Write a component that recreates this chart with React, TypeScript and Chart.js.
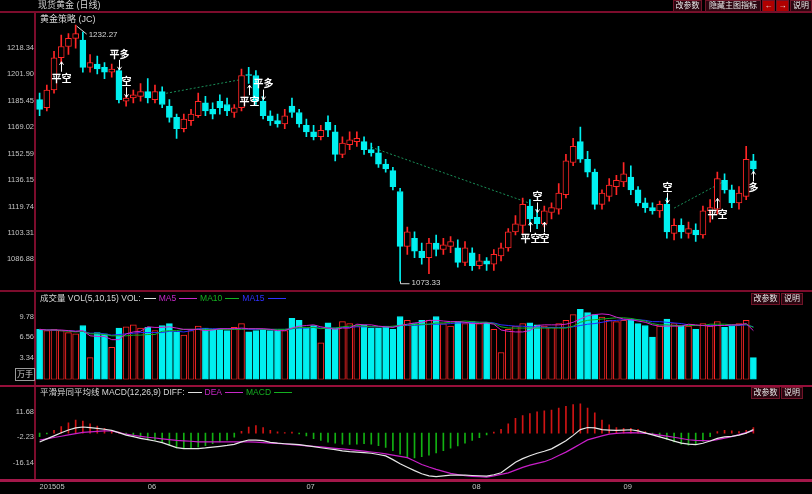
import React, { useEffect, useRef } from "react";
import { Chart, registerables } from "chart.js";

Chart.register(...registerables);

// ---------- data ----------
const dates = [
  "05-11","05-12","05-13","05-14","05-15","05-18","05-19","05-20","05-21","05-22","05-25","05-26","05-27","05-28","05-29",
  "06-01","06-02","06-03","06-04","06-05","06-08","06-09","06-10","06-11","06-12","06-15","06-16","06-17","06-18","06-19","06-22","06-23","06-24","06-25","06-26","06-29","06-30",
  "07-01","07-02","07-03","07-06","07-07","07-08","07-09","07-10","07-13","07-14","07-15","07-16","07-17","07-20","07-21","07-22","07-23","07-24","07-27","07-28","07-29","07-30","07-31",
  "08-03","08-04","08-05","08-06","08-07","08-10","08-11","08-12","08-13","08-14","08-17","08-18","08-19","08-20","08-21","08-24","08-25","08-26","08-27","08-28","08-31",
  "09-01","09-02","09-03","09-04","09-07","09-08","09-09","09-10","09-11","09-14","09-15","09-16","09-17","09-18","09-21","09-22","09-23","09-24","09-25",
];

const openP = [
  1186,1181,1192,1212,1219,1224,1223,1206,1208,1206,
  1203,1204,1185,1187,1188,1191,1186,1191,1182,1175,
  1168,1173,1176,1184,1180,1185,1183,1178,1181,1201.5,
  1201,1185,1176,1173,1171,1182,1178,1170,1166,1163,
  1172,1166,1152,1158,1160,1160,1155,1153,1146,1142,
  1129,1095,1100,1092,1088,1097,1093,1095,1094,1085,
  1091,1083,1086,1084,1089,1094,1104,1108,1120,1113,
  1109,1116,1118,1127,1147,1160,1149,1141,1121,1126,
  1132,1135,1138,1130,1122,1119,1117,1121,1103,1108,
  1103,1105,1102,1117,1118,1136,1130,1122,1126,1148,
];
const highP = [
  1190,1195,1216,1226,1227,1232.27,1228,1214,1213,1209,
  1208,1205,1188,1192,1196,1199,1195,1194,1186,1177,
  1177,1180,1190,1188,1184,1189,1187,1183,1205,1206,
  1204,1188,1179,1177,1180,1187,1180,1174,1170,1170,
  1176,1170,1163,1166,1166,1163,1159,1157,1149,1144,
  1131,1107,1104,1097,1100,1102,1100,1101,1099,1098,
  1094,1090,1088,1093,1097,1106,1114,1125,1124,1118,
  1120,1122,1134,1152,1162,1169,1154,1143,1130,1137,
  1139,1147,1145,1132,1125,1122,1123,1125,1112,1112,
  1110,1109,1120,1124,1141,1140,1133,1132,1157,1152,
];
const lowP = [
  1176,1179,1190,1209,1214,1218,1203,1203,1202,1199,
  1200,1184,1182,1184,1185,1184,1184,1181,1172,1162,
  1166,1170,1175,1176,1174,1177,1176,1175,1179,1196,
  1183,1174,1170,1169,1168,1175,1169,1163,1161,1161,
  1163,1148,1150,1155,1157,1152,1151,1144,1141,1130,
  1073.33,1090,1088,1084,1078,1089,1090,1091,1082,1083,
  1080,1081,1080,1080,1086,1092,1102,1103,1108,1106,
  1107,1112,1115,1125,1145,1147,1138,1118,1118,1123,
  1127,1132,1127,1120,1116,1115,1113,1100,1099,1100,
  1100,1098,1100,1110,1115,1128,1119,1118,1124,1141,
];
const closeP = [
  1180,1192,1212,1219,1224,1227,1206,1209,1205,1203,
  1205,1186,1187,1189,1191,1187,1191,1183,1175,1168,
  1174,1177,1185,1179,1177,1181,1179,1181,1201,1201,
  1185,1176,1173,1171,1176,1178,1171,1166,1163,1167,
  1167,1152,1159,1161,1162,1155,1153,1146,1143,1132,
  1095,1104,1092,1088,1097,1093,1096,1098,1085,1094,
  1083,1086,1084,1090,1094,1104,1109,1121,1112,1109,
  1117,1119,1128,1148,1157,1149,1141,1121,1128,1133,
  1136,1140,1130,1122,1119,1117,1121,1104,1108,1104,
  1106,1102,1117,1119,1137,1130,1122,1128,1149,1143,
];

const volume = [
  7.8,7.6,7.8,7.6,7.3,7.1,8.4,3.4,7.3,7.1,
  5.0,8.0,8.2,8.5,8.0,8.1,7.6,8.4,8.7,7.4,
  6.9,7.6,8.3,8.0,7.8,7.8,7.6,8.1,8.7,7.4,
  7.6,7.8,7.6,7.6,7.6,9.5,9.2,8.0,8.4,5.7,
  8.8,8.0,9.0,8.7,8.3,8.5,8.0,8.0,8.3,7.8,
  9.8,9.2,8.7,9.2,9.2,9.8,8.7,8.3,9.0,8.7,
  9.0,8.7,8.8,7.8,4.2,7.8,8.3,8.7,8.8,8.5,
  8.3,8.1,8.7,9.2,10.1,10.9,10.4,10.1,9.7,9.2,
  9.0,9.2,9.4,8.7,8.4,6.6,8.3,9.4,8.7,8.4,
  8.3,7.8,8.7,8.3,9.0,8.1,8.4,8.7,9.2,3.4,
];
const volMA5 = [
  7.8,7.7,7.7,7.7,7.6,7.5,7.6,6.8,6.7,6.7,
  6.2,6.2,7.1,7.4,7.5,8.2,8.1,8.1,8.2,8.0,
  7.8,7.8,7.8,7.6,7.7,7.9,7.9,7.9,8.0,7.9,
  7.9,7.9,7.8,7.6,7.6,8.0,8.3,8.4,8.5,8.2,
  8.0,7.8,8.0,8.0,8.6,8.5,8.5,8.3,8.2,8.1,
  8.4,8.6,8.8,8.9,9.2,9.2,9.1,9.0,9.0,8.9,
  8.7,8.7,8.8,8.6,7.7,7.5,7.4,7.4,7.6,8.4,
  8.5,8.5,8.5,8.6,8.9,9.4,9.9,10.1,10.2,10.1,
  9.7,9.4,9.3,9.1,8.9,8.5,8.3,8.3,8.3,8.3,
  8.6,8.5,8.4,8.3,8.4,8.4,8.5,8.5,8.7,7.6,
];
const volMA10 = [
  7.8,7.7,7.7,7.6,7.5,7.4,7.5,7.1,7.1,7.0,
  6.8,6.8,6.8,6.9,6.9,7.0,7.0,7.5,7.6,7.6,
  7.8,7.8,7.8,7.8,7.8,7.8,7.8,7.8,7.8,7.9,
  7.9,7.8,7.8,7.8,7.8,7.9,8.1,8.1,8.1,7.9,
  8.0,8.0,8.2,8.3,8.4,8.3,8.2,8.2,8.2,8.3,
  8.4,8.5,8.5,8.6,8.6,8.8,8.8,8.9,9.0,9.1,
  9.0,8.9,8.9,8.7,8.2,8.0,8.0,8.0,8.0,8.0,
  8.0,8.0,8.0,8.0,8.3,8.9,9.2,9.3,9.4,9.5,
  9.6,9.6,9.5,9.3,9.1,8.7,8.5,8.5,8.4,8.4,
  8.4,8.4,8.4,8.6,8.6,8.6,8.5,8.5,8.6,8.1,
];
const volMA15 = [
  7.8,7.7,7.7,7.6,7.6,7.5,7.5,7.2,7.2,7.1,
  6.9,7.0,7.1,7.2,7.3,7.3,7.3,7.3,7.5,7.5,
  7.4,7.6,7.9,7.9,7.9,7.9,7.9,7.9,7.9,7.8,
  7.8,7.8,7.8,7.8,7.8,7.9,8.0,8.0,8.1,8.0,
  8.0,8.0,8.1,8.1,8.2,8.2,8.2,8.2,8.2,8.2,
  8.4,8.4,8.4,8.5,8.6,8.6,8.6,8.7,8.8,8.8,
  8.9,8.9,8.9,8.8,8.5,8.4,8.3,8.3,8.2,8.2,
  8.1,8.1,8.1,8.1,8.2,8.4,8.6,8.7,8.9,9.1,
  9.2,9.3,9.3,9.3,9.2,9.0,9.0,8.9,8.8,8.7,
  8.5,8.4,8.4,8.4,8.4,8.4,8.4,8.4,8.5,8.2,
];

const diffLine = [
  -4.81,-3.16,-1.51,0.14,1.68,2.82,3.28,2.92,2.51,2.05,
  1.48,0.24,-1.10,-1.97,-2.85,-3.57,-4.29,-5.22,-6.56,-7.85,
  -8.41,-8.41,-8.41,-8.05,-7.59,-7.18,-6.71,-6.09,-4.76,-3.78,
  -3.78,-4.14,-5.01,-5.48,-5.79,-6.04,-6.30,-6.82,-7.38,-7.95,
  -8.52,-9.03,-9.65,-10.06,-10.37,-10.63,-10.94,-11.61,-12.38,-14.39,
  -16.66,-18.51,-20.37,-22.07,-23.20,-23.66,-23.25,-22.84,-22.84,-22.84,
  -22.99,-23.15,-23.35,-22.58,-21.50,-18.67,-15.83,-13.87,-12.28,-10.94,
  -9.86,-8.57,-6.40,-4.19,-1.25,1.89,3.02,2.77,1.84,1.63,
  1.43,1.58,1.79,1.17,0.09,-0.99,-2.08,-3.16,-4.34,-5.48,
  -6.04,-6.30,-5.53,-4.29,-2.85,-2.08,-1.77,-1.15,-0.02,1.84,
];
const deaLine = [
  -3.78,-3.11,-2.39,-1.72,-0.99,-0.32,0.35,0.60,0.91,1.17,
  1.12,0.24,-0.63,-1.20,-1.77,-2.28,-2.69,-3.16,-3.57,-3.93,
  -4.19,-4.45,-4.76,-4.81,-4.81,-4.81,-4.81,-4.81,-4.81,-4.81,
  -4.91,-5.17,-5.43,-5.63,-5.94,-6.25,-6.56,-6.92,-7.23,-7.54,
  -7.90,-8.26,-8.57,-8.93,-9.34,-9.80,-10.27,-10.68,-11.25,-11.92,
  -12.59,-13.31,-15.16,-17.02,-18.41,-19.70,-20.78,-21.86,-22.48,-23.15,
  -23.51,-23.66,-23.87,-23.20,-22.43,-21.60,-20.11,-18.61,-17.38,-16.45,
  -15.52,-14.03,-12.17,-10.32,-8.16,-5.94,-3.72,-2.64,-1.51,-0.58,
  -0.22,0.14,0.24,0.09,-0.12,-0.58,-1.10,-1.66,-2.28,-2.95,
  -3.62,-3.93,-4.09,-4.29,-3.52,-2.75,-1.92,-0.89,0.24,1.32,
];
const macdHist = [
  -2.0,-0.5,1.5,3.5,5.5,7.0,6.5,5.0,3.8,2.5,
  1.5,0.5,-0.8,-1.5,-2.2,-3.0,-3.8,-5.0,-6.5,-8.0,
  -8.5,-8.2,-7.6,-6.8,-5.8,-4.8,-3.8,-2.2,1.0,3.2,
  4.0,3.0,1.5,0.6,0.3,0.5,-0.5,-1.5,-3.0,-4.0,
  -5.0,-5.5,-6.0,-6.2,-6.0,-5.8,-6.0,-6.8,-7.8,-9.5,
  -11.5,-13.0,-13.5,-12.8,-12.0,-10.8,-9.5,-8.2,-7.0,-5.5,
  -4.0,-2.5,-1.0,0.5,2.0,5.0,8.0,9.5,10.5,11.5,
  12.0,12.5,13.5,14.5,15.5,15.8,13.5,11.0,7.0,4.5,
  3.0,2.5,2.5,2.0,0.8,-0.8,-2.0,-3.5,-4.8,-6.0,
  -6.5,-6.2,-4.5,-2.0,0.8,1.5,1.2,0.8,1.5,3.0,
];

const priceTicks = [1218.34, 1201.90, 1185.45, 1169.02, 1152.59, 1136.15, 1119.74, 1103.31, 1086.88];
const volTicks = [9.78, 6.56, 3.34];
const macdTicks = [11.68, -2.23, -16.14];
const monthTickIdx = [0, 15, 37, 60, 81];
const monthTickText = ["201505", "06", "07", "08", "09"];

// trading signals of the strategy indicator
const signalIdx = [3, 11, 12, 29, 31, 68, 69, 70, 87, 94, 99];
const signalPrice = [1209.5, 1204.5, 1187.5, 1195, 1186, 1110, 1116, 1110, 1122, 1124.7, 1141.5];
const signalText = ["平空", "平多", "空", "平空", "平多", "平空", "空", "空", "空", "平空", "多"];
const signalDir = ["up", "down", "down", "up", "down", "up", "down", "up", "down", "up", "up"];

// strategy guide lines (start/end index and price)
const guideAIdx = [17, 28];
const guideAVal = [1189.5, 1198.5];
const guideBIdx = [46, 68];
const guideBVal = [1156.5, 1121.7];
const guideCIdx = [88, 95];
const guideCVal = [1118.7, 1135.5];

// ---------- styles ----------
const RED = "#ff2626";
const CYAN = "#00f0f0";
const FRAME = "#7c0c2c";
const AXIS_FONT = { size: 7.5, family: '"Liberation Sans", sans-serif' };

const isUp = (i: number) => closeP[i] >= openP[i];

const yAxis = (min: number, max: number, ticks: number[]) => ({
  type: "linear",
  position: "left",
  min,
  max,
  grid: { display: false, drawTicks: false },
  border: { display: false },
  afterFit: (s: any) => {
    s.width = 36;
  },
  afterBuildTicks: (s: any) => {
    s.ticks = ticks.map((v) => ({ value: v }));
  },
  ticks: {
    color: "#c4c4c4",
    font: AXIS_FONT,
    padding: 2,
    autoSkip: false,
    callback: (v: any) => Number(v).toFixed(2),
  },
});

const hiddenX = {
  type: "category",
  labels: dates,
  offset: true,
  display: false,
  grid: { display: false },
};

const baseOptions = (padBottom: number) => ({
  responsive: false,
  maintainAspectRatio: false,
  animation: false,
  events: [],
  layout: { padding: { left: 0, right: 55, top: 2, bottom: padBottom } },
  plugins: { legend: { display: false }, tooltip: { enabled: false }, title: { display: false } },
});

const guide = (idx: number[], val: number[]) => ({
  type: "line",
  data: [
    { x: dates[idx[0]], y: val[0] },
    { x: dates[idx[1]], y: val[1] },
  ],
  borderColor: "#1a8f58",
  borderWidth: 1,
  borderDash: [2, 2],
  pointRadius: 0,
  order: 5,
});

const mainMarks = {
  id: "mainMarks",
  afterDatasetsDraw(chart: any) {
    const { ctx } = chart;
    const x = chart.scales.x;
    const y = chart.scales.y;
    ctx.save();
    let hi = 0;
    let lo = 0;
    for (let i = 1; i < highP.length; i++) {
      if (highP[i] > highP[hi]) hi = i;
      if (lowP[i] < lowP[lo]) lo = i;
    }
    ctx.strokeStyle = "#d8d8d8";
    ctx.fillStyle = "#d8d8d8";
    ctx.lineWidth = 1;
    ctx.font = '8px "Liberation Sans", sans-serif';
    ctx.textAlign = "left";
    ctx.textBaseline = "middle";
    const hx = x.getPixelForValue(hi);
    const hy = y.getPixelForValue(highP[hi]);
    ctx.beginPath();
    ctx.moveTo(hx + 1, hy + 1);
    ctx.lineTo(hx + 11, hy + 9);
    ctx.stroke();
    ctx.fillText(highP[hi].toFixed(2), hx + 13, hy + 10);
    const lx = Math.round(x.getPixelForValue(lo)) + 0.5;
    const ly = y.getPixelForValue(lowP[lo]);
    ctx.beginPath();
    ctx.moveTo(lx, ly);
    ctx.lineTo(lx, ly + 2.5);
    ctx.lineTo(lx + 9, ly + 2.5);
    ctx.stroke();
    ctx.fillText(lowP[lo].toFixed(2), lx + 11, ly + 2);

    ctx.font = 'bold 10px "Noto Sans CJK SC", sans-serif';
    ctx.textAlign = "center";
    ctx.fillStyle = "#ffffff";
    ctx.strokeStyle = "#ffffff";
    signalIdx.forEach((si, k) => {
      const sx = Math.round(x.getPixelForValue(si)) + 0.5;
      const sy = y.getPixelForValue(signalPrice[k]);
      const up = signalDir[k] === "up";
      ctx.beginPath();
      if (up) {
        ctx.moveTo(sx, sy);
        ctx.lineTo(sx, sy + 10);
        ctx.moveTo(sx - 2, sy + 3);
        ctx.lineTo(sx, sy);
        ctx.lineTo(sx + 2, sy + 3);
      } else {
        ctx.moveTo(sx, sy);
        ctx.lineTo(sx, sy - 10);
        ctx.moveTo(sx - 2, sy - 3);
        ctx.lineTo(sx, sy);
        ctx.lineTo(sx + 2, sy - 3);
      }
      ctx.stroke();
      ctx.fillText(signalText[k], sx, up ? sy + 16 : sy - 16);
    });
    ctx.restore();
  },
};

// ---------- component ----------
const lineSeg = (color: string, w = 18) => (
  <span
    style={{
      display: "inline-block",
      width: w,
      height: 0,
      borderTop: `1px solid ${color}`,
      verticalAlign: "middle",
      margin: "0 3px",
    }}
  />
);

const btn = (left: number, top: number, w: number, text: string, bg = "#2c0610") => (
  <div
    style={{
      position: "absolute",
      left,
      top,
      width: w,
      height: 10,
      background: bg,
      border: "1px solid #701428",
      color: "#e8e8e8",
      fontSize: 8,
      lineHeight: "10px",
      textAlign: "center",
      whiteSpace: "nowrap",
      overflow: "hidden",
    }}
  >
    {text}
  </div>
);

export default function App() {
  const mainRef = useRef<HTMLCanvasElement>(null);
  const volRef = useRef<HTMLCanvasElement>(null);
  const macdRef = useRef<HTMLCanvasElement>(null);

  useEffect(() => {
    document.body.style.margin = "0";
    document.body.style.background = "#000";
    const charts: Chart[] = [];

    const mainCfg: any = {
      type: "bar",
      data: {
        labels: dates,
        datasets: [
          {
            type: "bar",
            data: dates.map((_, i) => [openP[i], closeP[i]]),
            backgroundColor: (c: any) => (isUp(c.dataIndex) ? "#000000" : CYAN),
            borderColor: (c: any) => (isUp(c.dataIndex) ? RED : CYAN),
            borderWidth: 1,
            borderSkipped: false,
            barThickness: 6,
            grouped: false,
            order: 1,
          },
          {
            type: "bar",
            data: dates.map((_, i) => [Math.max(openP[i], closeP[i]), highP[i]]),
            backgroundColor: (c: any) => (isUp(c.dataIndex) ? RED : CYAN),
            borderWidth: 0,
            barThickness: 1,
            grouped: false,
            order: 2,
          },
          {
            type: "bar",
            data: dates.map((_, i) => [lowP[i], Math.min(openP[i], closeP[i])]),
            backgroundColor: (c: any) => (isUp(c.dataIndex) ? RED : CYAN),
            borderWidth: 0,
            barThickness: 1,
            grouped: false,
            order: 2,
          },
          guide(guideAIdx, guideAVal),
          guide(guideBIdx, guideBVal),
          guide(guideCIdx, guideCVal),
        ],
      },
      options: {
        ...baseOptions(2),
        scales: { x: hiddenX, y: yAxis(1070.69, 1236.35, priceTicks) },
      },
      plugins: [mainMarks],
    };

    const volCfg: any = {
      type: "bar",
      data: {
        labels: dates,
        datasets: [
          {
            type: "line",
            data: volMA5,
            borderColor: "#d020d0",
            borderWidth: 1,
            pointRadius: 0,
            order: 0,
          },
          {
            type: "line",
            data: volMA10,
            borderColor: "#10b020",
            borderWidth: 1,
            pointRadius: 0,
            order: 0,
          },
          {
            type: "line",
            data: volMA15,
            borderColor: "#2a2aff",
            borderWidth: 1,
            pointRadius: 0,
            order: 0,
          },
          {
            type: "bar",
            data: volume,
            backgroundColor: (c: any) => (isUp(c.dataIndex) ? "#000000" : CYAN),
            borderColor: (c: any) => (isUp(c.dataIndex) ? RED : CYAN),
            borderWidth: 1,
            borderSkipped: false,
            barThickness: 6,
            grouped: false,
            order: 1,
          },
        ],
      },
      options: {
        ...baseOptions(2),
        scales: { x: hiddenX, y: yAxis(0, 12.6, volTicks) },
      },
    };

    const macdCfg: any = {
      type: "bar",
      data: {
        labels: dates,
        datasets: [
          {
            type: "line",
            data: diffLine,
            borderColor: "#e6e6e6",
            borderWidth: 1.2,
            pointRadius: 0,
            order: 0,
          },
          {
            type: "line",
            data: deaLine,
            borderColor: "#c81ec8",
            borderWidth: 1.2,
            pointRadius: 0,
            order: 0,
          },
          {
            type: "bar",
            data: macdHist,
            backgroundColor: (c: any) => (macdHist[c.dataIndex] >= 0 ? "#d01414" : "#12b012"),
            borderWidth: 0,
            barThickness: 1,
            grouped: false,
            order: 1,
          },
        ],
      },
      options: {
        ...baseOptions(0),
        scales: {
          x: {
            type: "category",
            labels: dates,
            offset: true,
            grid: { display: false, drawTicks: false },
            border: { display: false },
            afterFit: (s: any) => {
              s.height = 15;
            },
            ticks: {
              autoSkip: false,
              maxRotation: 0,
              minRotation: 0,
              align: "start",
              color: "#c4c4c4",
              font: AXIS_FONT,
              padding: 3,
              callback: (_v: any, idx: number) => {
                const k = monthTickIdx.indexOf(idx);
                return k >= 0 ? monthTickText[k] : "";
              },
            },
          },
          y: yAxis(-24.9, 21.98, macdTicks),
        },
      },
    };

    if (mainRef.current) charts.push(new Chart(mainRef.current, mainCfg));
    if (volRef.current) charts.push(new Chart(volRef.current, volCfg));
    if (macdRef.current) charts.push(new Chart(macdRef.current, macdCfg));
    return () => charts.forEach((c) => c.destroy());
  }, []);

  const abs = (extra: any): any => ({ position: "absolute", whiteSpace: "nowrap", ...extra });

  return (
    <div
      style={{
        position: "relative",
        width: 812,
        height: 494,
        background: "#000",
        overflow: "hidden",
        fontFamily: '"Liberation Sans", "Noto Sans CJK SC", sans-serif',
        color: "#d4d4d4",
      }}
    >
      <canvas ref={mainRef} width={812} height={280} style={abs({ left: 0, top: 12 })} />
      <canvas ref={volRef} width={812} height={94} style={abs({ left: 0, top: 292 })} />
      <canvas ref={macdRef} width={812} height={108} style={abs({ left: 0, top: 386 })} />

      {/* frame lines */}
      <div style={abs({ left: 0, top: 11, width: 812, height: 2, background: FRAME })} />
      <div style={abs({ left: 34, top: 11, width: 2, height: 471, background: FRAME })} />
      <div style={abs({ left: 0, top: 290, width: 812, height: 2, background: FRAME })} />
      <div style={abs({ left: 0, top: 385, width: 812, height: 2, background: "#960f3a" })} />
      <div style={abs({ left: 0, top: 479, width: 812, height: 3, background: "#a3184a" })} />

      {/* title bar */}
      <div style={abs({ left: 38, top: 0, fontSize: 9, lineHeight: "10px", color: "#d0d0d0" })}>现货黄金 (日线)</div>
      {btn(673, 0, 27, "改参数")}
      {btn(705, 0, 54, "隐藏主图指标")}
      {btn(762, 0, 11, "←", "#b00000")}
      {btn(776, 0, 11, "→", "#b00000")}
      {btn(790, 0, 20, "说明")}

      {/* main panel label */}
      <div style={abs({ left: 40, top: 14, fontSize: 9, lineHeight: "10px", color: "#d8d8d8" })}>黄金策略 (JC)</div>

      {/* volume header */}
      <div style={abs({ left: 40, top: 293, fontSize: 8.5, lineHeight: "10px", color: "#d8d8d8" })}>
        成交量 VOL(5,10,15) VOL:{lineSeg("#e0e0e0", 12)}
        <span style={{ color: "#c828c8" }}>MA5</span>
        {lineSeg("#c828c8")}
        <span style={{ color: "#14b020" }}>MA10</span>
        {lineSeg("#14b020", 14)}
        <span style={{ color: "#3030ff" }}>MA15</span>
        {lineSeg("#3030ff")}
      </div>
      {btn(751, 293, 27, "改参数")}
      {btn(781, 293, 20, "说明")}
      <div
        style={abs({
          left: 15,
          top: 368,
          width: 18,
          height: 11,
          border: "1px solid #9a9a9a",
          fontSize: 8,
          lineHeight: "11px",
          textAlign: "center",
          color: "#d0d0d0",
        })}
      >
        万手
      </div>

      {/* MACD header */}
      <div style={abs({ left: 40, top: 387, fontSize: 8.5, lineHeight: "10px", color: "#d8d8d8" })}>
        平滑异同平均线 MACD(12,26,9) DIFF:{lineSeg("#e0e0e0", 14)}
        <span style={{ color: "#c828c8" }}>DEA</span>
        {lineSeg("#c828c8")}
        <span style={{ color: "#14b020" }}>MACD</span>
        {lineSeg("#14b020")}
      </div>
      {btn(751, 387, 27, "改参数")}
      {btn(781, 387, 20, "说明")}
    </div>
  );
}
